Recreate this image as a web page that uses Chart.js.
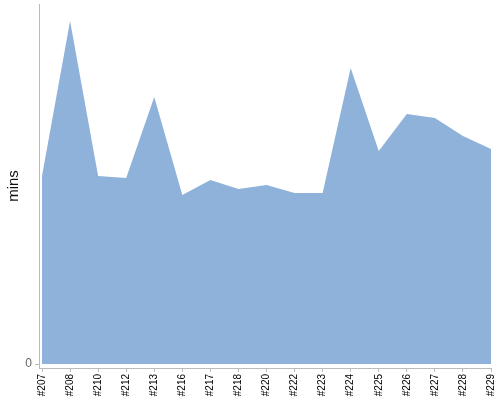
<!DOCTYPE html>
<html>
<head>
<meta charset="utf-8">
<script src="https://cdn.jsdelivr.net/npm/chart.js@4"></script>
<style>
  html, body { margin: 0; padding: 0; background: #fff; }
  #wrap { width: 500px; height: 400px; }
</style>
</head>
<body>
<div id="wrap"><canvas id="c" width="500" height="400"></canvas></div>
<script>
const categories = ["#207", "#208", "#210", "#212", "#213", "#216", "#217", "#218", "#220", "#222", "#223", "#224", "#225", "#226", "#227", "#228", "#229"];
const minutes = [18.8, 34.3, 18.8, 18.6, 26.7, 16.9, 18.4, 17.5, 17.9, 17.1, 17.1, 29.6, 21.3, 25.0, 24.6, 22.8, 21.5];
const yTickLabels = ["0"];
const yTickValues = [0];

const points = minutes.map((v, i) => ({ x: i, y: v }));

new Chart(document.getElementById('c'), {
  type: 'line',
  data: {
    datasets: [{
      data: points,
      fill: 'origin',
      backgroundColor: 'rgb(143,178,218)',
      borderColor: 'rgba(0,0,0,0)',
      borderWidth: 0,
      pointRadius: 0,
      tension: 0
    }]
  },
  options: {
    responsive: false,
    animation: false,
    devicePixelRatio: 1,
    layout: { padding: { top: 4, right: 9, left: 0, bottom: 0 } },
    plugins: { legend: { display: false }, tooltip: { enabled: false } },
    scales: {
      x: {
        type: 'linear',
        min: -0.107,
        max: categories.length - 1,
        afterBuildTicks: (s) => { s.ticks = categories.map((c, i) => ({ value: i })); },
        afterFit: (s) => { s.height = 32; s.paddingLeft = 0; s.paddingRight = 0; },
        ticks: {
          autoSkip: false,
          minRotation: 90,
          maxRotation: 90,
          padding: 2,
          color: '#000',
          font: { family: 'Liberation Sans, Arial, sans-serif', size: 10 },
          callback: (v) => categories[v] !== undefined ? categories[v] : ''
        },
        grid: { drawOnChartArea: false, drawTicks: true, tickLength: 4, color: '#bbb' },
        border: { display: true, color: '#bbb', width: 1 }
      },
      y: {
        min: -0.4,
        max: 36,
        afterBuildTicks: (s) => { s.ticks = yTickValues.map(v => ({ value: v })); },
        afterFit: (s) => { s.width = 39; s.paddingTop = 0; s.paddingBottom = 0; },
        ticks: {
          padding: 3,
          color: '#666',
          font: { family: 'Liberation Sans, Arial, sans-serif', size: 12 },
          callback: (v) => { const k = yTickValues.indexOf(v); return k >= 0 ? yTickLabels[k] : ''; }
        },
        grid: { drawOnChartArea: false, drawTicks: true, tickLength: 4, color: '#bbb' },
        border: { display: true, color: '#bbb', width: 1 },
        title: {
          display: true,
          text: 'mins',
          color: '#111',
          padding: { top: 5, bottom: 0 },
          font: { family: 'Liberation Sans, Arial, sans-serif', size: 15 }
        }
      }
    }
  }
});
</script>
</body>
</html>
